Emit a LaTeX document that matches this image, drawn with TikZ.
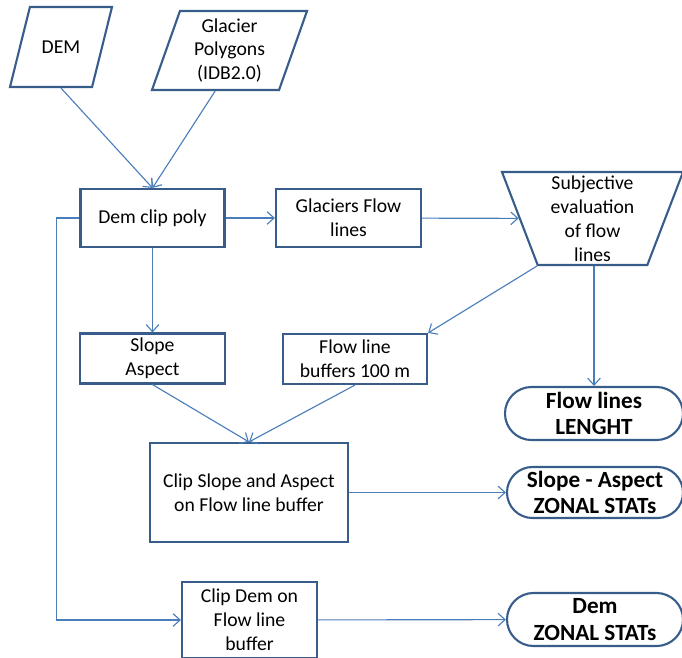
\documentclass[tikz,border=0pt]{standalone}
\usepackage{fontspec}
\setmainfont{Carlito}
\usetikzlibrary{arrows.meta,shapes.geometric,shapes.misc}
\definecolor{boxline}{RGB}{56,93,138}
\definecolor{linkline}{RGB}{74,126,187}

\begin{document}
\begin{tikzpicture}[
  x=0.025cm, y=-0.025cm,
  font=\fontsize{14}{17}\selectfont,
  base/.style={draw=boxline, line width=1.5pt, align=center, inner sep=0pt},
  io/.style={base, trapezium, trapezium stretches body},
  proc/.style={base, rectangle},
  judge/.style={base, trapezium, trapezium stretches body,
    trapezium left angle=111, trapezium right angle=111},
  term/.style={base, rounded rectangle, font=\fontsize{16.5}{19}\selectfont\bfseries},
  link/.style={draw=linkline, line width=0.8pt, -{Straight Barb[length=5pt,width=9pt]}}
]
\useasboundingbox (0,0) rectangle (682,657);

\node[io, trapezium left angle=76, trapezium right angle=104,
  text height=1cm, text depth=1cm, minimum width=2.55cm,
  label={[align=center]center:DEM}] (dem) at (61,47) {};
\node[io, trapezium left angle=70.5, trapezium right angle=109.5,
  text height=0.9875cm, text depth=0.9875cm, minimum width=3.875cm,
  label={[align=center]center:Glacier\\Polygons\\(IDB2.0)}] (glac) at (229.5,50.5) {};

\node[proc, minimum width=3.6cm, minimum height=1.45cm] (clip) at (152.5,218) {Dem clip poly};
\node[proc, minimum width=3.625cm, minimum height=1.45cm] (flow) at (348.5,218) {Glaciers Flow\\lines};
\node[judge, text height=1.1625cm, text depth=1.1625cm, minimum width=4.525cm,
  label={[align=center]center:Subjective\\evaluation\\of flow\\lines}] (subj) at (592.5,218.5) {};

\node[proc, minimum width=3.625cm, minimum height=1.25cm] (slope) at (152.5,358.5) {Slope\\Aspect};
\node[proc, minimum width=3.6cm, minimum height=1.25cm] (buf) at (355,359) {Flow line\\buffers 100 m};
\node[term, minimum width=4.45cm, minimum height=1.325cm] (len) at (594,413.5) {Flow lines\\LENGHT};

\node[proc, minimum width=4.95cm, minimum height=2.475cm] (clipsa) at (249,492.5) {Clip Slope and Aspect\\on Flow line buffer};
\node[term, minimum width=4.4cm, minimum height=1.275cm] (zsa) at (595,492.5) {Slope - Aspect\\ZONAL STATs};

\node[proc, minimum width=3.375cm, minimum height=1.9cm] (clipdem) at (249.5,620) {Clip Dem on\\Flow line\\buffer};
\node[term, minimum width=4.4cm, minimum height=1.325cm] (zdem) at (595,619.5) {Dem\\ZONAL STATs};

% connectors
\draw[link] (dem.south) -- (clip.north);
\draw[link] (glac.bottom side) -- (clip.north);
\draw[link] (clip) -- (flow);
\draw[link] (flow) -- (subj);
\draw[link] (subj.bottom left corner) -- (buf.north east);
\draw[link] (len.north |- subj.south) -- (len.north);
\draw[link] (clip.south) -- (slope.north);
\draw[link] (slope.south) -- (clipsa.north);
\draw[link] (buf.south) -- (clipsa.north);
\draw[link] (clipsa) -- (zsa);
\draw[link] (clip.west) -- ++(-23,0) |- (clipdem.west);
\draw[link] (clipdem) -- (zdem);
\end{tikzpicture}
\end{document}
